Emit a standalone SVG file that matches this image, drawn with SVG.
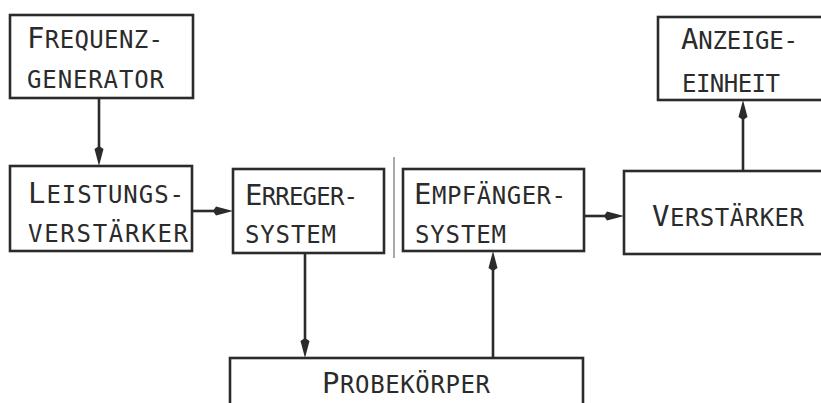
<svg xmlns="http://www.w3.org/2000/svg" width="821" height="403" viewBox="0 0 821 403">
  <style>
    .box { fill: #ffffff; stroke: #2b2b2b; stroke-width: 2.6; }
    .conn { fill: none; stroke: #2b2b2b; stroke-width: 2.6; }
    .div { fill: none; stroke: #555555; stroke-width: 1; }
    .lbl { font-family: "DejaVu Sans Mono", "Liberation Mono", monospace; font-size: 24px; fill: #2b2b2b; }
    .cap { font-size: 29px; }
  </style>
  <defs>
    <marker id="ah" markerUnits="userSpaceOnUse" viewBox="-12 -6 24 12" refX="0" refY="0" markerWidth="24" markerHeight="12" orient="auto">
      <path d="M10,0 L-7,-4.5 L-10,0 L-7,4.5 Z" fill="#2b2b2b"/>
    </marker>
  </defs>
  <rect width="821" height="403" fill="#ffffff"/>

  <g id="connectors">
    <line class="conn" x1="99" y1="98" x2="99" y2="156" marker-end="url(#ah)"/>
    <line class="conn" x1="192" y1="211" x2="223" y2="211" marker-end="url(#ah)"/>
    <line class="conn" x1="305" y1="253" x2="305" y2="348" marker-end="url(#ah)"/>
    <line class="conn" x1="493" y1="358" x2="493" y2="261" marker-end="url(#ah)"/>
    <line class="conn" x1="584" y1="216" x2="614" y2="216" marker-end="url(#ah)"/>
    <line class="conn" x1="743" y1="171" x2="743" y2="110" marker-end="url(#ah)"/>
    <line class="div" x1="394" y1="157" x2="394" y2="258"/>
  </g>

  <g id="frequenzgenerator">
    <rect class="box" x="10" y="15" width="183" height="83"/>
    <text class="lbl" x="27" y="48" textLength="136" lengthAdjust="spacing"><tspan class="cap">F</tspan>REQUENZ-</text>
    <text class="lbl" x="27" y="88" textLength="137" lengthAdjust="spacing">GENERATOR</text>
  </g>

  <g id="leistungsverstaerker">
    <rect class="box" x="10" y="166" width="182" height="85"/>
    <text class="lbl" x="28" y="203" textLength="156" lengthAdjust="spacing"><tspan class="cap">L</tspan>EISTUNGS-</text>
    <text class="lbl" x="28" y="242" textLength="160" lengthAdjust="spacing">VERSTÄRKER</text>
  </g>

  <g id="erregersystem">
    <rect class="box" x="233" y="169" width="151" height="84"/>
    <text class="lbl" x="245" y="205" textLength="113" lengthAdjust="spacing"><tspan class="cap">E</tspan>RREGER-</text>
    <text class="lbl" x="245" y="243" textLength="91" lengthAdjust="spacing">SYSTEM</text>
  </g>

  <g id="empfaengersystem">
    <rect class="box" x="403" y="169" width="181" height="82"/>
    <text class="lbl" x="414" y="204" textLength="152" lengthAdjust="spacing"><tspan class="cap">E</tspan>MPFÄNGER-</text>
    <text class="lbl" x="415" y="243" textLength="91" lengthAdjust="spacing">SYSTEM</text>
  </g>

  <g id="verstaerker">
    <rect class="box" x="624" y="171" width="210" height="83"/>
    <text class="lbl" x="652" y="226" textLength="152" lengthAdjust="spacing"><tspan class="cap">V</tspan>ERSTÄRKER</text>
  </g>

  <g id="anzeigeeinheit">
    <rect class="box" x="658" y="17" width="175" height="83"/>
    <text class="lbl" x="681" y="49" textLength="117" lengthAdjust="spacing"><tspan class="cap">A</tspan>NZEIGE-</text>
    <text class="lbl" x="682" y="92" textLength="98" lengthAdjust="spacing">EINHEIT</text>
  </g>

  <g id="probekoerper">
    <rect class="box" x="230" y="358" width="353" height="60"/>
    <text class="lbl" x="322" y="393" textLength="168" lengthAdjust="spacing"><tspan class="cap">P</tspan>ROBEKÖRPER</text>
  </g>
</svg>
